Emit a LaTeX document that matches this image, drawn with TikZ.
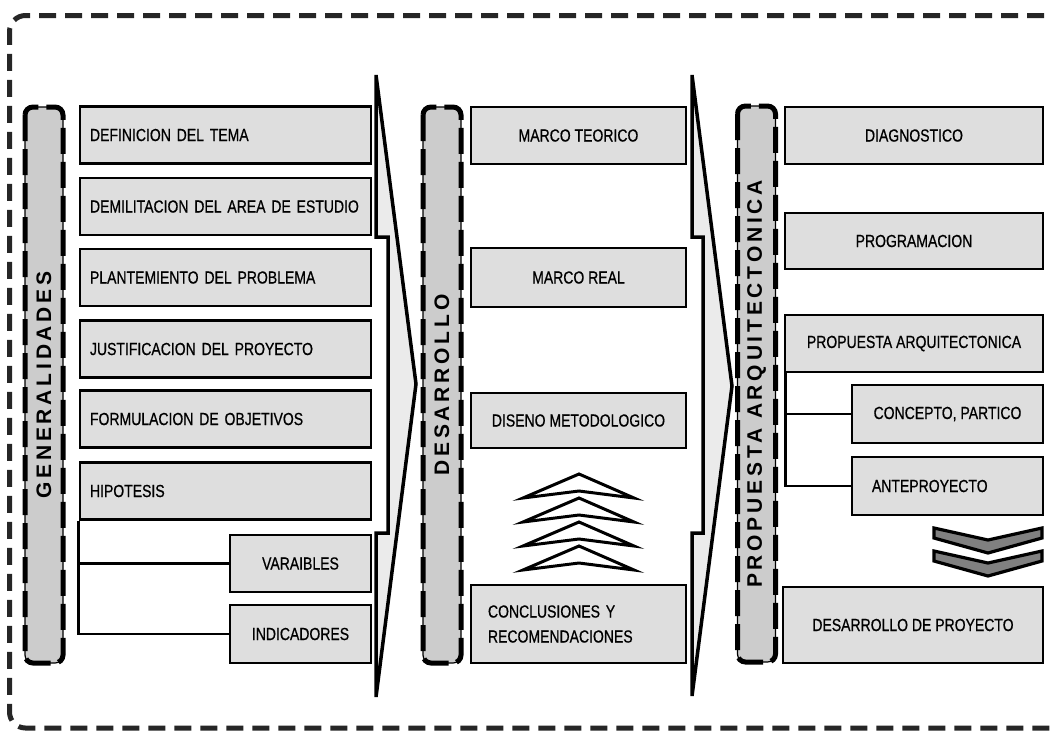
\documentclass[tikz,border=0pt]{standalone}
\usepackage{fontspec}
\setmainfont{Liberation Sans}
\newfontfamily\itemfont[FakeStretch=0.8,FakeBold=0.6]{Liberation Sans}
\newfontfamily\labfontfam[LetterSpace=18]{Liberation Sans}
\newcommand{\labfont}{\labfontfam\bfseries\fontsize{21}{24}\selectfont}
\newcommand{\itfont}{\itemfont\fontsize{17.5}{25}\selectfont}
\definecolor{boxfill}{gray}{0.87}
\definecolor{labfill}{gray}{0.80}
\definecolor{arrfill}{gray}{0.92}
\definecolor{chevfill}{gray}{0.5}
\tikzset{
  item/.style={draw=black, line width=2.8pt, fill=boxfill, inner ysep=0pt, inner xsep=10pt,
               font=\itfont, minimum height=57pt},
  labbox/.style={draw=black, line width=1.2pt, rounded corners=8pt, fill=labfill, inner sep=0pt,
               font=\labfont, rotate=90, minimum width=556pt, minimum height=38pt,
               postaction={draw=black, line width=5pt, dash pattern=on 26pt off 8pt}},
  bigarrow/.style={draw=black, line width=3.5pt, fill=arrfill, line join=miter},
  upchev/.style={draw=black, line width=3pt, fill=white, line join=miter},
  downchev/.style={draw=black, line width=3.2pt, fill=chevfill, line join=miter},
  conn/.style={draw=black, line width=2.4pt},
  frame/.style={draw=black!85, line width=5pt, dash pattern=on 17pt off 9pt, rounded corners=16pt}
}
\begin{document}
\begin{tikzpicture}[x=1pt,y=-1pt]
\useasboundingbox (0,0) rectangle (1052,740);
% outer dashed frame
\draw[frame] (1070,15.5) -- (9.5,15.5) -- (9.5,728) -- (1070,728);

% big arrows
\draw[bigarrow] (376,75) -- (416,384) -- (376,697) -- (376,533) -- (388,533) -- (388,237) -- (376,237) -- cycle;
\draw[bigarrow] (692,75) -- (732,386) -- (692,696) -- (692,533) -- (703,533) -- (703,237) -- (692,237) -- cycle;

% label boxes
\node[labbox] (gen) at (44,385) {GENERALIDADES};
\node[labbox] (des) at (442,385) {DESARROLLO};
\node[labbox] (pro) at (756.5,384) {PROPUESTA ARQUITECTONICA};

% column 1
\node[item, text width=271pt, align=left] (c1a) at (225.5,135) {DEFINICION DEL TEMA};
\node[item, text width=271pt, align=left] (c1b) at (225.5,206.5) {DEMILITACION DEL AREA DE ESTUDIO};
\node[item, text width=271pt, align=left] (c1c) at (225.5,277.5) {PLANTEMIENTO DEL PROBLEMA};
\node[item, text width=271pt, align=left] (c1d) at (225.5,349) {JUSTIFICACION DEL PROYECTO};
\node[item, text width=271pt, align=left] (c1e) at (225.5,419) {FORMULACION DE OBJETIVOS};
\node[item, text width=271pt, align=left] (c1f) at (225.5,491) {HIPOTESIS};
\node[item, minimum width=141pt] (var) at (300.5,563.5) {VARAIBLES};
\node[item, minimum width=141pt, minimum height=58pt] (ind) at (300.5,634) {INDICADORES};
\draw[conn] (c1f.south west) |- (ind.west);
\draw[conn] (c1f.south west |- var.west) -- (var.west);

% column 2
\node[item, minimum width=215pt] (c2a) at (578.5,135.5) {MARCO TEORICO};
\node[item, minimum width=215pt, minimum height=59pt] (c2b) at (578.5,277.5) {MARCO REAL};
\node[item, minimum width=215pt, minimum height=55pt] (c2c) at (578.5,420.5) {DISENO METODOLOGICO};
\node[item, text width=181pt, inner xsep=17pt, align=left, minimum height=78pt] (c2d) at (578.5,624)
  {CONCLUSIONES Y\\RECOMENDACIONES};
\foreach \yy in {474,498,522,546}{
  \draw[upchev] (523,\yy+24) -- (579,\yy) -- (634,\yy+24) -- (579,\yy+17) -- cycle;
}

% column 3
\node[item, minimum width=258pt] (c3a) at (914,135.5) {DIAGNOSTICO};
\node[item, minimum width=258pt, minimum height=56pt] (c3b) at (914,241) {PROGRAMACION};
\node[item, minimum width=258pt] (c3c) at (914,343.5) {PROPUESTA ARQUITECTONICA};
\node[item, minimum width=191pt, minimum height=58pt] (c3d) at (947.5,414) {CONCEPTO, PARTICO};
\node[item, text width=151pt, inner xsep=20pt, align=left, minimum height=58pt] (c3e) at (947.5,486) {ANTEPROYECTO};
\node[item, minimum width=260pt, minimum height=76pt] (c3f) at (913,625) {DESARROLLO DE PROYECTO};
\draw[conn] ([xshift=2pt]c3c.south west) |- (c3e.west);
\draw[conn] ([xshift=2pt]c3c.south west |- c3d.west) -- (c3d.west);
\foreach \yy in {528,551}{
  \draw[downchev] (934,\yy) -- (988,\yy+12) -- (1042,\yy) -- (1042,\yy+10) -- (988,\yy+25) -- (934,\yy+10) -- cycle;
}
\end{tikzpicture}
\end{document}
